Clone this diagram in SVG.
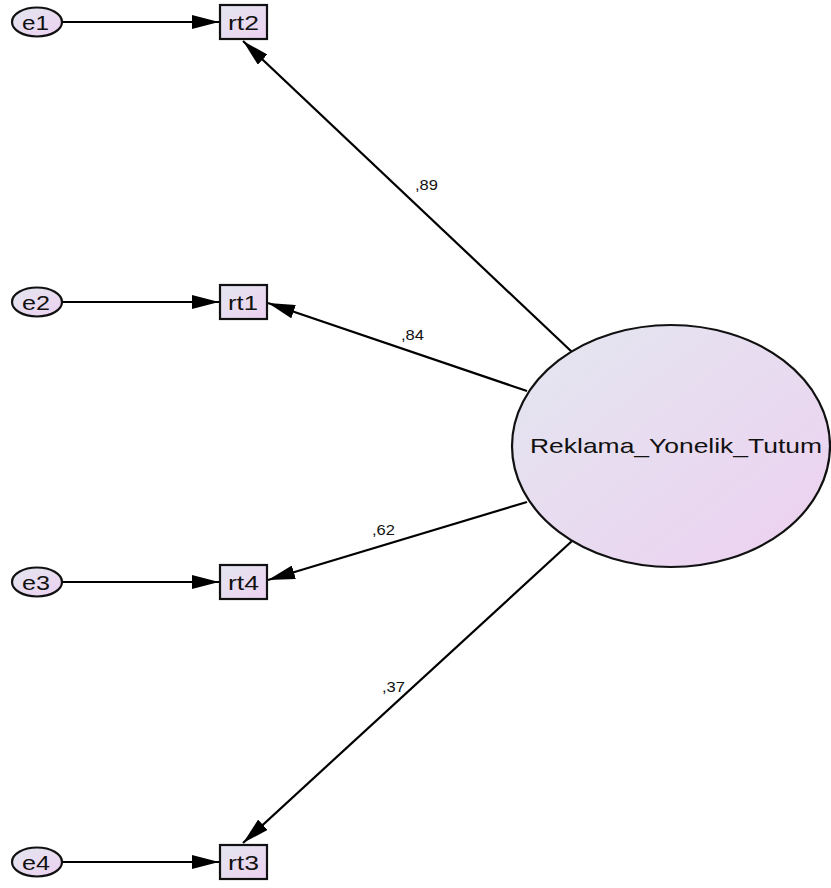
<svg xmlns="http://www.w3.org/2000/svg" width="831" height="888" viewBox="0 0 831 888">
<defs>
<linearGradient id="g" x1="0" y1="0" x2="1" y2="1">
<stop offset="0" stop-color="#e3e7f0"/>
<stop offset="1" stop-color="#edd0f0"/>
</linearGradient>
<marker id="ah" markerUnits="userSpaceOnUse" markerWidth="28" markerHeight="14" refX="27" refY="7" orient="auto">
<path d="M0,0 L27,7 L0,14 z" fill="#000"/>
</marker>
<style>
.n{fill:url(#g);stroke:#111;stroke-width:2.2}
.t{font-family:"Liberation Sans",Arial,sans-serif;font-size:20.5px;fill:#111}
.c{font-family:"Liberation Sans",Arial,sans-serif;font-size:15px;fill:#111}
.l{stroke:#000;stroke-width:2.2;fill:none;marker-end:url(#ah)}
</style>
</defs>
<rect width="831" height="888" fill="#fff"/>
<g id="connectors">
<line class="l" x1="62" y1="22" x2="219" y2="22"/>
<line class="l" x1="62" y1="302" x2="219" y2="302"/>
<line class="l" x1="62" y1="582" x2="219" y2="582"/>
<line class="l" x1="62" y1="862" x2="219" y2="862"/>
<line class="l" x1="572" y1="352" x2="243" y2="41"/>
<line class="l" x1="527" y1="391" x2="268" y2="303"/>
<line class="l" x1="527" y1="502" x2="268" y2="580"/>
<line class="l" x1="572" y1="541" x2="243" y2="843"/>
<text class="c" x="415" y="190" textLength="23" lengthAdjust="spacingAndGlyphs">,89</text>
<text class="c" x="401" y="340" textLength="23" lengthAdjust="spacingAndGlyphs">,84</text>
<text class="c" x="372" y="535" textLength="23" lengthAdjust="spacingAndGlyphs">,62</text>
<text class="c" x="382" y="692" textLength="23" lengthAdjust="spacingAndGlyphs">,37</text>
</g>
<g id="e1"><ellipse class="n" cx="37" cy="22" rx="25" ry="14.5"/><text class="t" x="22" y="30" textLength="27" lengthAdjust="spacingAndGlyphs">e1</text></g>
<g id="e2"><ellipse class="n" cx="37" cy="302" rx="25" ry="14.5"/><text class="t" x="22" y="310" textLength="28" lengthAdjust="spacingAndGlyphs">e2</text></g>
<g id="e3"><ellipse class="n" cx="37" cy="582" rx="25" ry="14.5"/><text class="t" x="22" y="590" textLength="28" lengthAdjust="spacingAndGlyphs">e3</text></g>
<g id="e4"><ellipse class="n" cx="37" cy="862" rx="25" ry="14.5"/><text class="t" x="22" y="870" textLength="28" lengthAdjust="spacingAndGlyphs">e4</text></g>
<g id="rt2"><rect class="n" x="220" y="5" width="47" height="34"/><text class="t" x="228" y="30" textLength="31" lengthAdjust="spacingAndGlyphs">rt2</text></g>
<g id="rt1"><rect class="n" x="220" y="285" width="47" height="34"/><text class="t" x="228" y="310" textLength="30" lengthAdjust="spacingAndGlyphs">rt1</text></g>
<g id="rt4"><rect class="n" x="220" y="565" width="47" height="34"/><text class="t" x="228" y="590" textLength="31" lengthAdjust="spacingAndGlyphs">rt4</text></g>
<g id="rt3"><rect class="n" x="220" y="845" width="47" height="34"/><text class="t" x="228" y="870" textLength="31" lengthAdjust="spacingAndGlyphs">rt3</text></g>
<g id="Reklama_Yonelik_Tutum"><ellipse class="n" cx="671" cy="446" rx="159" ry="121"/><text class="t" x="530" y="453" style="font-size:21px" textLength="292" lengthAdjust="spacingAndGlyphs">Reklama_Yonelik_Tutum</text></g>
</svg>
